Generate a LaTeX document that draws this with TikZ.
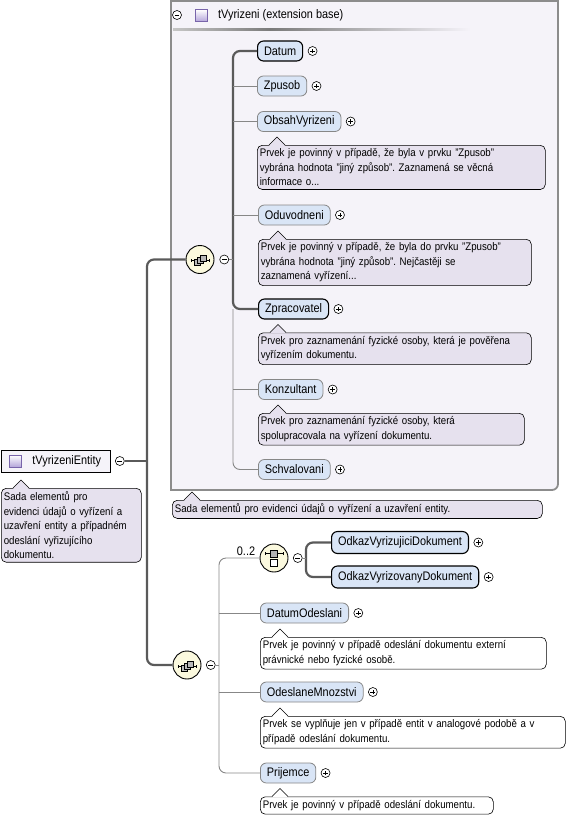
\documentclass[tikz,border=0pt]{standalone}
\usepackage{fontspec}
\setmainfont{Liberation Sans}[FakeStretch=0.88]
\usetikzlibrary{positioning}
\frenchspacing

\definecolor{boxfill}{RGB}{245,243,249}
\definecolor{boxline}{RGB}{140,140,140}
\definecolor{elemfill}{RGB}{217,229,246}
\definecolor{notefill}{RGB}{230,225,238}
\definecolor{compfill}{RGB}{251,249,222}
\definecolor{treedark}{RGB}{90,90,90}
\definecolor{treegray}{RGB}{135,135,135}
\definecolor{iconfill}{RGB}{180,165,218}
\definecolor{iconline}{RGB}{120,100,170}

\newcommand\elemfont{\fontsize{12.4}{14}\selectfont}
\newcommand\notefont{\fontsize{11}{14.5}\selectfont}

% small pointer on top of an annotation
\newcommand\notetip[2][notefill]{%
  \fill[#1] ([xshift=12pt,yshift=-0.8pt]#2.north west) -- ++(8pt,8.8pt) -- ++(8pt,-8.8pt) -- cycle;
  \draw[line width=0.6pt] ([xshift=12pt]#2.north west) -- ++(8pt,8pt) -- ++(8pt,-8pt);}

% compositor icons
\newcommand\seqicon[1]{%
  \draw[line width=0.7pt] ([xshift=-9pt,yshift=-1pt]#1.center) -- ([xshift=9pt,yshift=-1pt]#1.center);
  \draw[line width=0.7pt] ([xshift=-9pt,yshift=-2.5pt]#1.center) -- ([xshift=-9pt,yshift=0.5pt]#1.center)
                          ([xshift=9pt,yshift=-2.5pt]#1.center) -- ([xshift=9pt,yshift=0.5pt]#1.center);
  \foreach \d in {-3,0,3}
    {\filldraw[fill=gray!55,line width=0.5pt] ([xshift=\d pt-3pt,yshift=\d pt*0.7-4pt]#1.center) rectangle ++(6pt,6pt);}}
\newcommand\choiceicon[1]{%
  \draw[line width=0.7pt] ([xshift=-9pt,yshift=4.5pt]#1.center) -- ([xshift=9pt,yshift=4.5pt]#1.center)
                          ([xshift=-9pt,yshift=3pt]#1.center) -- ([xshift=-9pt,yshift=6pt]#1.center)
                          ([xshift=9pt,yshift=3pt]#1.center) -- ([xshift=9pt,yshift=6pt]#1.center);
  \filldraw[fill=gray!60,line width=0.5pt] ([xshift=-3.5pt,yshift=1pt]#1.center) rectangle ++(7pt,7pt);
  \filldraw[fill=white,line width=0.5pt] ([xshift=-3.5pt,yshift=-8pt]#1.center) rectangle ++(7pt,7pt);}

\begin{document}
\begin{tikzpicture}[x=1pt,y=-1pt,node distance=4.5pt,
    elem/.style={draw=treegray,fill=elemfill,rounded corners=6pt,minimum height=20pt,
                 inner xsep=6.5pt,inner ysep=0pt,font=\elemfont,anchor=west,line width=0.8pt},
    elemreq/.style={elem,draw=black,line width=1.1pt},
    note/.style={draw=black,fill=notefill,rounded corners=5pt,align=left,anchor=north west,
                 inner xsep=2.5pt,inner ysep=3.5pt,font=\notefont,text width=#1,line width=0.6pt},
    btn/.style={circle,draw=black,fill=white,minimum size=9pt,inner sep=0pt,line width=0.6pt},
    plusbtn/.style={btn,path picture={\draw[line width=0.7pt]
        (path picture bounding box.center) +(-2.4pt,0) -- +(2.4pt,0) +(0,-2.4pt) -- +(0,2.4pt);}},
    minusbtn/.style={btn,path picture={\draw[line width=0.7pt]
        (path picture bounding box.center) +(-2.4pt,0) -- +(2.4pt,0);}},
    comp/.style={circle,draw=black,fill=compfill,minimum size=28pt,inner sep=0pt,line width=0.9pt},
    thickline/.style={draw=treedark,line width=2.2pt,rounded corners=7pt},
    thinline/.style={draw=treegray,line width=0.9pt,rounded corners=7pt}]
  \useasboundingbox (0,0) rectangle (570,819);

  % extension base box
  \path[fill=boxfill,draw=boxline,line width=1.8pt]
    (171,1) -- (558,1) -- (558,484) arc[start angle=0,end angle=-90,radius=6pt] -- (171,490) -- cycle;
  \node[minusbtn] (mi_head) at (177,15) {};
  \shade[top color=white,bottom color=iconfill,draw=iconline,line width=0.6pt] (195,9.5) rectangle (207,21.5);
  \node[font=\elemfont,anchor=west,inner sep=0pt] (hd_text) at (218,15) {tVyrizeni (extension base)};
  \shade[left color=boxline!50,right color=treedark!80] (173,28) rectangle (270,30.5);
  \shade[left color=treedark!80,right color=boxfill] (270,28) rectangle (470,30.5);

  % elements of tVyrizeni
  \node[elemreq] (el_datum)  at (257,51)    {Datum};
  \node[elem]    (el_zpusob) at (257,86)    {Zpusob};
  \node[elem]    (el_obsah)  at (257,121.5) {ObsahVyrizeni};
  \node[elem]    (el_oduv)   at (258,215)   {Oduvodneni};
  \node[elemreq] (el_zprac)  at (258,309)   {Zpracovatel};
  \node[elem]    (el_konz)   at (258,389.5) {Konzultant};
  \node[elem]    (el_schval) at (258,469.5) {Schvalovani};
  \foreach \e in {datum,zpusob,obsah,oduv,zprac,konz,schval}
    {\node[plusbtn] (pl_\e) [right=of el_\e] {};}

  \node[note=283pt] (an_obsah) at (257,145)
    {Prvek je povinný v případě, že byla v prvku "Zpusob"\\vybrána hodnota "jiný způsob". Zaznamená se věcná\\informace o...};
  \node[note=268pt] (an_oduv) at (258,239)
    {Prvek je povinný v případě, že byla do prvku "Zpusob"\\vybrána hodnota "jiný způsob". Nejčastěji se\\zaznamená vyřízení...};
  \node[note=268pt] (an_zprac) at (258,332.5)
    {Prvek pro zaznamenání fyzické osoby, která je pověřena\\vyřízením dokumentu.};
  \node[note=261pt] (an_konz) at (258,413)
    {Prvek pro zaznamenání fyzické osoby, která\\spolupracovala na vyřízení dokumentu.};
  \foreach \e in {obsah,oduv,zprac,konz}
    {\notetip{an_\e}}

  \node[note=365pt] (an_box) at (172,500) {Sada elementů pro evidenci údajů o vyřízení a uzavření entity.};
  \notetip{an_box}

  % root
  \node[draw=black,fill=boxfill,font=\elemfont,inner xsep=9pt,minimum height=22pt,anchor=west,line width=0.8pt]
    (rt) at (1,461) {\hspace*{22pt}tVyrizeniEntity};
  \shade[top color=white,bottom color=iconfill,draw=iconline,line width=0.6pt]
    ([xshift=8.5pt,yshift=-6pt]rt.west) rectangle ++(12pt,12pt);
  \node[minusbtn] (mi_root) [right=of rt] {};
  \node[note=135pt] (an_root) at (1,488)
    {Sada elementů pro\\evidenci údajů o vyřízení a\\uzavření entity a případném\\odeslání vyřizujícího\\dokumentu.};
  \notetip{an_root}

  % compositors
  \node[comp] (co_seqa) at (200,259.5) {};
  \node[minusbtn] (mi_seqa) [right=5pt of co_seqa] {};
  \seqicon{co_seqa}
  \node[comp] (co_seqb) at (187,665) {};
  \node[minusbtn] (mi_seqb) [right=of co_seqb] {};
  \seqicon{co_seqb}
  \node[comp] (co_choice) at (274,558) {};
  \node[minusbtn] (mi_choice) [right=of co_choice] {};
  \choiceicon{co_choice}
  \node[font=\elemfont,inner sep=0pt] (lb_occ) at (246,551) {0..2};

  % lower elements
  \node[elemreq,minimum height=22pt] (el_odkaz1) at (331,542.5) {OdkazVyrizujiciDokument};
  \node[elemreq,minimum height=22pt] (el_odkaz2) at (331,577)   {OdkazVyrizovanyDokument};
  \node[elem] (el_datodes) at (260,613) {DatumOdeslani};
  \node[elem] (el_odesl)   at (260,692) {OdeslaneMnozstvi};
  \node[elem] (el_prij)    at (260,773) {Prijemce};
  \foreach \e in {odkaz1,odkaz2,datodes,odesl,prij}
    {\node[plusbtn] (pl_\e) [right=of el_\e] {};}

  \node[note=281pt,fill=white] (an_datodes) at (260,637)
    {Prvek je povinný v případě odeslání dokumentu externí\\právnické nebo fyzické osobě.};
  \node[note=300pt,fill=white] (an_odesl) at (260,716)
    {Prvek se vyplňuje jen v případě entit v analogové podobě a v\\případě odeslání dokumentu.};
  \node[note=228pt,fill=white] (an_prij) at (260,796.5)
    {Prvek je povinný v případě odeslání dokumentu.};
  \foreach \e in {datodes,odesl,prij}
    {\notetip[white]{an_\e}}

  % connectors
  \coordinate (rj) at (147,461);
  \coordinate (ja) at (233,259.5);
  \coordinate (jb) at (219,665);
  \coordinate (jc) at (306,558);

  \draw[thickline] (co_seqa.west) -| (rj) |- (co_seqb.west);
  \draw[thickline] (mi_root.east) -- (rj);

  \draw[thickline] (el_datum.west) -| (ja) |- (el_zprac.west);
  \draw[thinline] (el_zprac.west -| ja) |- (el_schval.west);
  \draw[thinline] (mi_seqa.east) -- (ja);
  \foreach \e in {zpusob,obsah,oduv,konz}
    {\draw[thinline] (el_\e.west -| ja) -- (el_\e.west);}

  \draw[thinline] (co_choice.west) -| (jb) |- (el_prij.west);
  \draw[thinline] (mi_seqb.east) -- (jb);
  \foreach \e in {datodes,odesl}
    {\draw[thinline] (el_\e.west -| jb) -- (el_\e.west);}

  \draw[thickline] (el_odkaz1.west) -| (jc) |- (el_odkaz2.west);
  \draw[thinline] (mi_choice.east) -- (jc);
\end{tikzpicture}
\end{document}
